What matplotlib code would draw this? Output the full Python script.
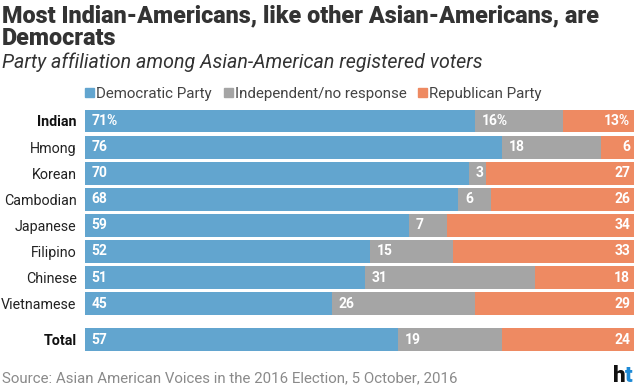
import matplotlib.pyplot as plt
from matplotlib.patches import Rectangle

# Data
groups = ["Indian", "Hmong", "Korean", "Cambodian", "Japanese", "Filipino",
          "Chinese", "Vietnamese", "Total"]
democratic = [71, 76, 70, 68, 59, 52, 51, 45, 57]
independent = [16, 18, 3, 6, 7, 15, 31, 26, 19]
republican = [13, 6, 27, 26, 34, 33, 18, 29, 24]
series_names = ["Democratic Party", "Independent/no response", "Republican Party"]

colors = ["#62a5cf", "#a5a5a5", "#ee8a62"]
ypos = [0, 1, 2, 3, 4, 5, 6, 7, 8.39]

plt.rcParams["font.family"] = ["Roboto", "DejaVu Sans"]

fig = plt.figure(figsize=(6.4, 3.89), dpi=100)
ax = fig.add_axes([85 / 640, 35 / 389, 549 / 640, 246 / 389])

left = [0] * len(groups)
for vals, col in zip([democratic, independent, republican], colors):
    ax.barh(ypos, vals, left=left, height=0.88, color=col, linewidth=0)
    left = [l + v for l, v in zip(left, vals)]

# Value labels
for i, y in enumerate(ypos):
    suffix = "%" if i == 0 else ""
    d, ind, r = democratic[i], independent[i], republican[i]
    ax.text(1.2, y, f"{d}{suffix}", color="white", fontsize=10, fontweight="bold",
            va="center", ha="left")
    ax.text(d + 1.2, y, f"{ind}{suffix}", color="white", fontsize=10, fontweight="bold",
            va="center", ha="left")
    ax.text(99.3, y, f"{r}{suffix}", color="white", fontsize=10, fontweight="bold",
            va="center", ha="right")

ax.set_xlim(0, 100)
ax.set_ylim(8.93, -0.498)
ax.set_yticks(ypos)
ax.set_yticklabels(groups, fontsize=10.3, color="#222222")
for lbl in ax.get_yticklabels():
    if lbl.get_text() in ("Indian", "Total"):
        lbl.set_fontweight("bold")
        lbl.set_color("#111111")
ax.tick_params(axis="y", length=0, pad=6)
ax.set_xticks([])
for s in ax.spines.values():
    s.set_visible(False)

# Titles
fig.text(0.003, 0.943, "Most Indian-Americans, like other Asian-Americans, are",
         fontsize=16.8, fontweight="black", color="#333333", ha="left", va="baseline")
fig.text(0.003, 0.884, "Democrats", fontsize=16.8, fontweight="black", color="#333333",
         ha="left", va="baseline")
fig.text(0.003, 0.825, "Party affiliation among Asian-American registered voters",
         fontsize=14.1, fontstyle="italic", color="#333333",
         ha="left", va="baseline")

# Legend
lx = 85
for name, col in zip(series_names, colors):
    fig.patches.append(Rectangle((lx / 640, 1 - 97 / 389), 9 / 640, 9 / 389, color=col,
                                 transform=fig.transFigure, figure=fig))
    t = fig.text((lx + 11) / 640, 1 - 98 / 389, name, fontsize=10.9, color="#444444",
                 ha="left", va="baseline")
    fig.canvas.draw()
    bb = t.get_window_extent()
    lx = bb.x1 + 12

# Source and logo
fig.text(0.003, 0.018, "Source: Asian American Voices in the 2016 Election, 5 October, 2016",
         fontsize=10.8, color="#8a8a8a", ha="left", va="baseline")
fig.text(613 / 640, 0.018, "h", fontsize=16, fontweight="black", color="#111111",
         ha="left", va="baseline")
fig.text(625 / 640, 0.018, "t", fontsize=16, fontweight="black", color="#1e8ad6",
         ha="left", va="baseline")

fig.savefig("out.png", dpi=100)
